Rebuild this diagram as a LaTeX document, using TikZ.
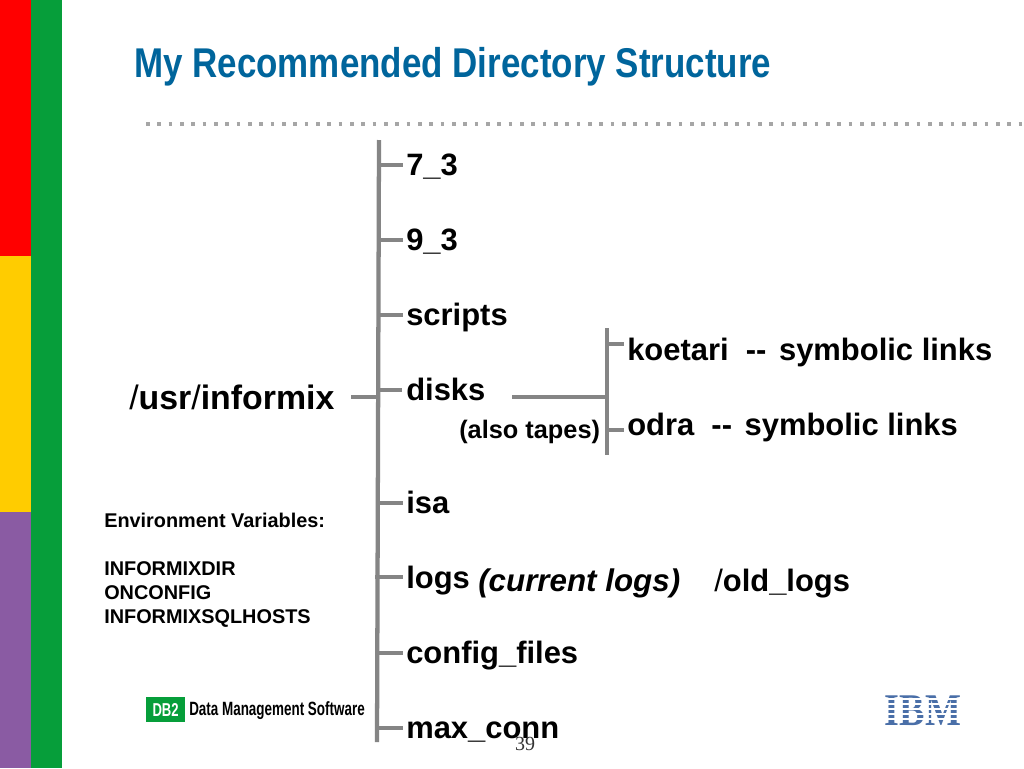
\documentclass[tikz,border=0pt]{standalone}
\usepackage{fontspec}
\setmainfont{Liberation Sans}
\newfontfamily\titlefont[FakeStretch=0.84]{Liberation Sans Bold}
\newfontfamily\narrowfont[FakeStretch=0.70]{Liberation Sans Bold}
\newfontfamily\ibmfont[FakeStretch=0.84]{Liberation Serif Bold}
\newfontfamily\pagefont{Liberation Serif}
\definecolor{barred}{HTML}{FF0000}
\definecolor{baryellow}{HTML}{FFCC00}
\definecolor{barpurple}{HTML}{8A5BA3}
\definecolor{bargreen}{HTML}{069E3A}
\definecolor{titleblue}{HTML}{00659C}
\definecolor{treegray}{HTML}{858585}
\definecolor{ibmblue}{HTML}{4A6FA8}
\tikzset{
  x=0.75pt,y=-0.75pt,
  dirlabel/.style={anchor=base west,inner sep=0pt,font=\fontsize{23.2}{26}\bfseries\selectfont,text=black},
  smalllabel/.style={anchor=base west,inner sep=0pt,font=\fontsize{14.9}{18}\bfseries\selectfont,align=left,text=black},
  treeline/.style={draw=treegray,line width=3.2pt},
  treetick/.style={draw=treegray,line width=2.6pt}
}
\begin{document}
\begin{tikzpicture}
\useasboundingbox (0,0) rectangle (1024,768);
\fill[white] (0,0) rectangle (1024,768);
\fill[barred] (0,0) rectangle (31,256);
\fill[baryellow] (0,256) rectangle (31,512);
\fill[barpurple] (0,512) rectangle (31,768);
\fill[bargreen] (31,0) rectangle (62,768);
\node[anchor=base west,inner sep=0pt,text=titleblue,font=\fontsize{31.2}{34}\titlefont\selectfont] (title) at (134,77) {My Recommended Directory Structure};
% dotted rule
\coordinate (ruleL) at (146,124);
\coordinate (ruleR) at (1024,124);
\draw[draw=gray!70,line width=3pt,dash pattern=on 2.7pt off 5.8pt] (ruleL) -- (ruleR);
% labels
\node[dirlabel] (n1) at (406,175) {7\_3};
\node[dirlabel] (n2) at (406,250) {9\_3};
\node[dirlabel] (n3) at (406,325) {scripts};
\node[dirlabel] (n4) at (406,400) {disks};
\node[dirlabel] (n5) at (406,513) {isa};
\node[dirlabel] (n6) at (406,588) {logs};
\node[dirlabel] (n7) at (406,663) {config\_files};
\node[dirlabel] (n8) at (406,738) {max\_conn};
\node[dirlabel,font=\fontsize{25.4}{28}\bfseries\selectfont] (usr) at (129,409) {{\mdseries /}usr{\mdseries /}informix};
\node[dirlabel] (koe) at (627,360) {koetari\ \ {-}{-}\hspace{3pt}\ symbolic links};
\node[dirlabel] (odr) at (627,435) {odra\ \ {-}{-}\hspace{3pt}\ symbolic links};
\node[anchor=base west,inner sep=0pt,font=\fontsize{19}{22}\bfseries\selectfont] (tapes) at (459,438) {(also tapes)};
\node[dirlabel,font=\fontsize{23.5}{26}\bfseries\itshape\selectfont] (cur) at (478,591) {(current logs)};
\node[dirlabel] (old) at (714,591) {{\mdseries /}old\_logs};
\node[smalllabel,anchor=north west] (env) at (104,513) {Environment Variables:\\[18pt]INFORMIXDIR\\ONCONFIG\\INFORMIXSQLHOSTS};
% tree
\coordinate (mainT) at (379,140);
\coordinate (mainB) at (377,742);
\draw[treeline] (mainT) -- (mainB);
\coordinate (t1) at (379,165); \coordinate (e1) at (403,165);
\coordinate (t2) at (379,240); \coordinate (e2) at (403,240);
\coordinate (t3) at (378,315); \coordinate (e3) at (403,315);
\coordinate (t4) at (378,390); \coordinate (e4) at (402,390);
\coordinate (t5) at (378,503); \coordinate (e5) at (403,503);
\coordinate (t6) at (375,577); \coordinate (e6) at (403,577);
\coordinate (t7) at (378,653); \coordinate (e7) at (403,653);
\coordinate (t8) at (378,728); \coordinate (e8) at (403,728);
\foreach \i in {1,...,8} {\draw[treetick] (t\i) -- (e\i);}
\coordinate (usrE) at (351,397);
\coordinate (usrT) at (376,397);
\draw[treetick] (usrE) -- (usrT);
\coordinate (subT) at (607,328);
\coordinate (subB) at (607,455);
\draw[treeline] (subT) -- (subB);
\coordinate (subL) at (512,397);
\coordinate (subM) at (607,397);
\draw[treetick] (subL) -- (subM);
\coordinate (kS) at (607,344); \coordinate (kE) at (624,344);
\coordinate (oS) at (607,430); \coordinate (oE) at (624,430);
\draw[treetick] (kS) -- (kE);
\draw[treetick] (oS) -- (oE);
% footer
\node[fill=bargreen,text=white,font=\fontsize{14}{14}\narrowfont\selectfont,inner sep=0pt,minimum height=18.5pt,text width=29pt,align=center,anchor=west] (db2) at (146,709.5) {DB2};
\node[anchor=west,inner sep=0pt,font=\fontsize{14.4}{15}\narrowfont\selectfont,text=black] (dms) at (189,711) {Data Management Software};
\node[inner sep=0pt,text=ibmblue,font=\fontsize{34}{34}\ibmfont\selectfont,anchor=base] (ibm) at (923,725) {IBM};
\foreach \yy in {698,703,708,713,718} {\fill[white] (880,\yy) rectangle (965,\yy+2);}
\node[anchor=base,inner sep=0pt,font=\fontsize{15}{16}\pagefont\selectfont,text=black!80] (page) at (525,750) {39};
\end{tikzpicture}
\end{document}
